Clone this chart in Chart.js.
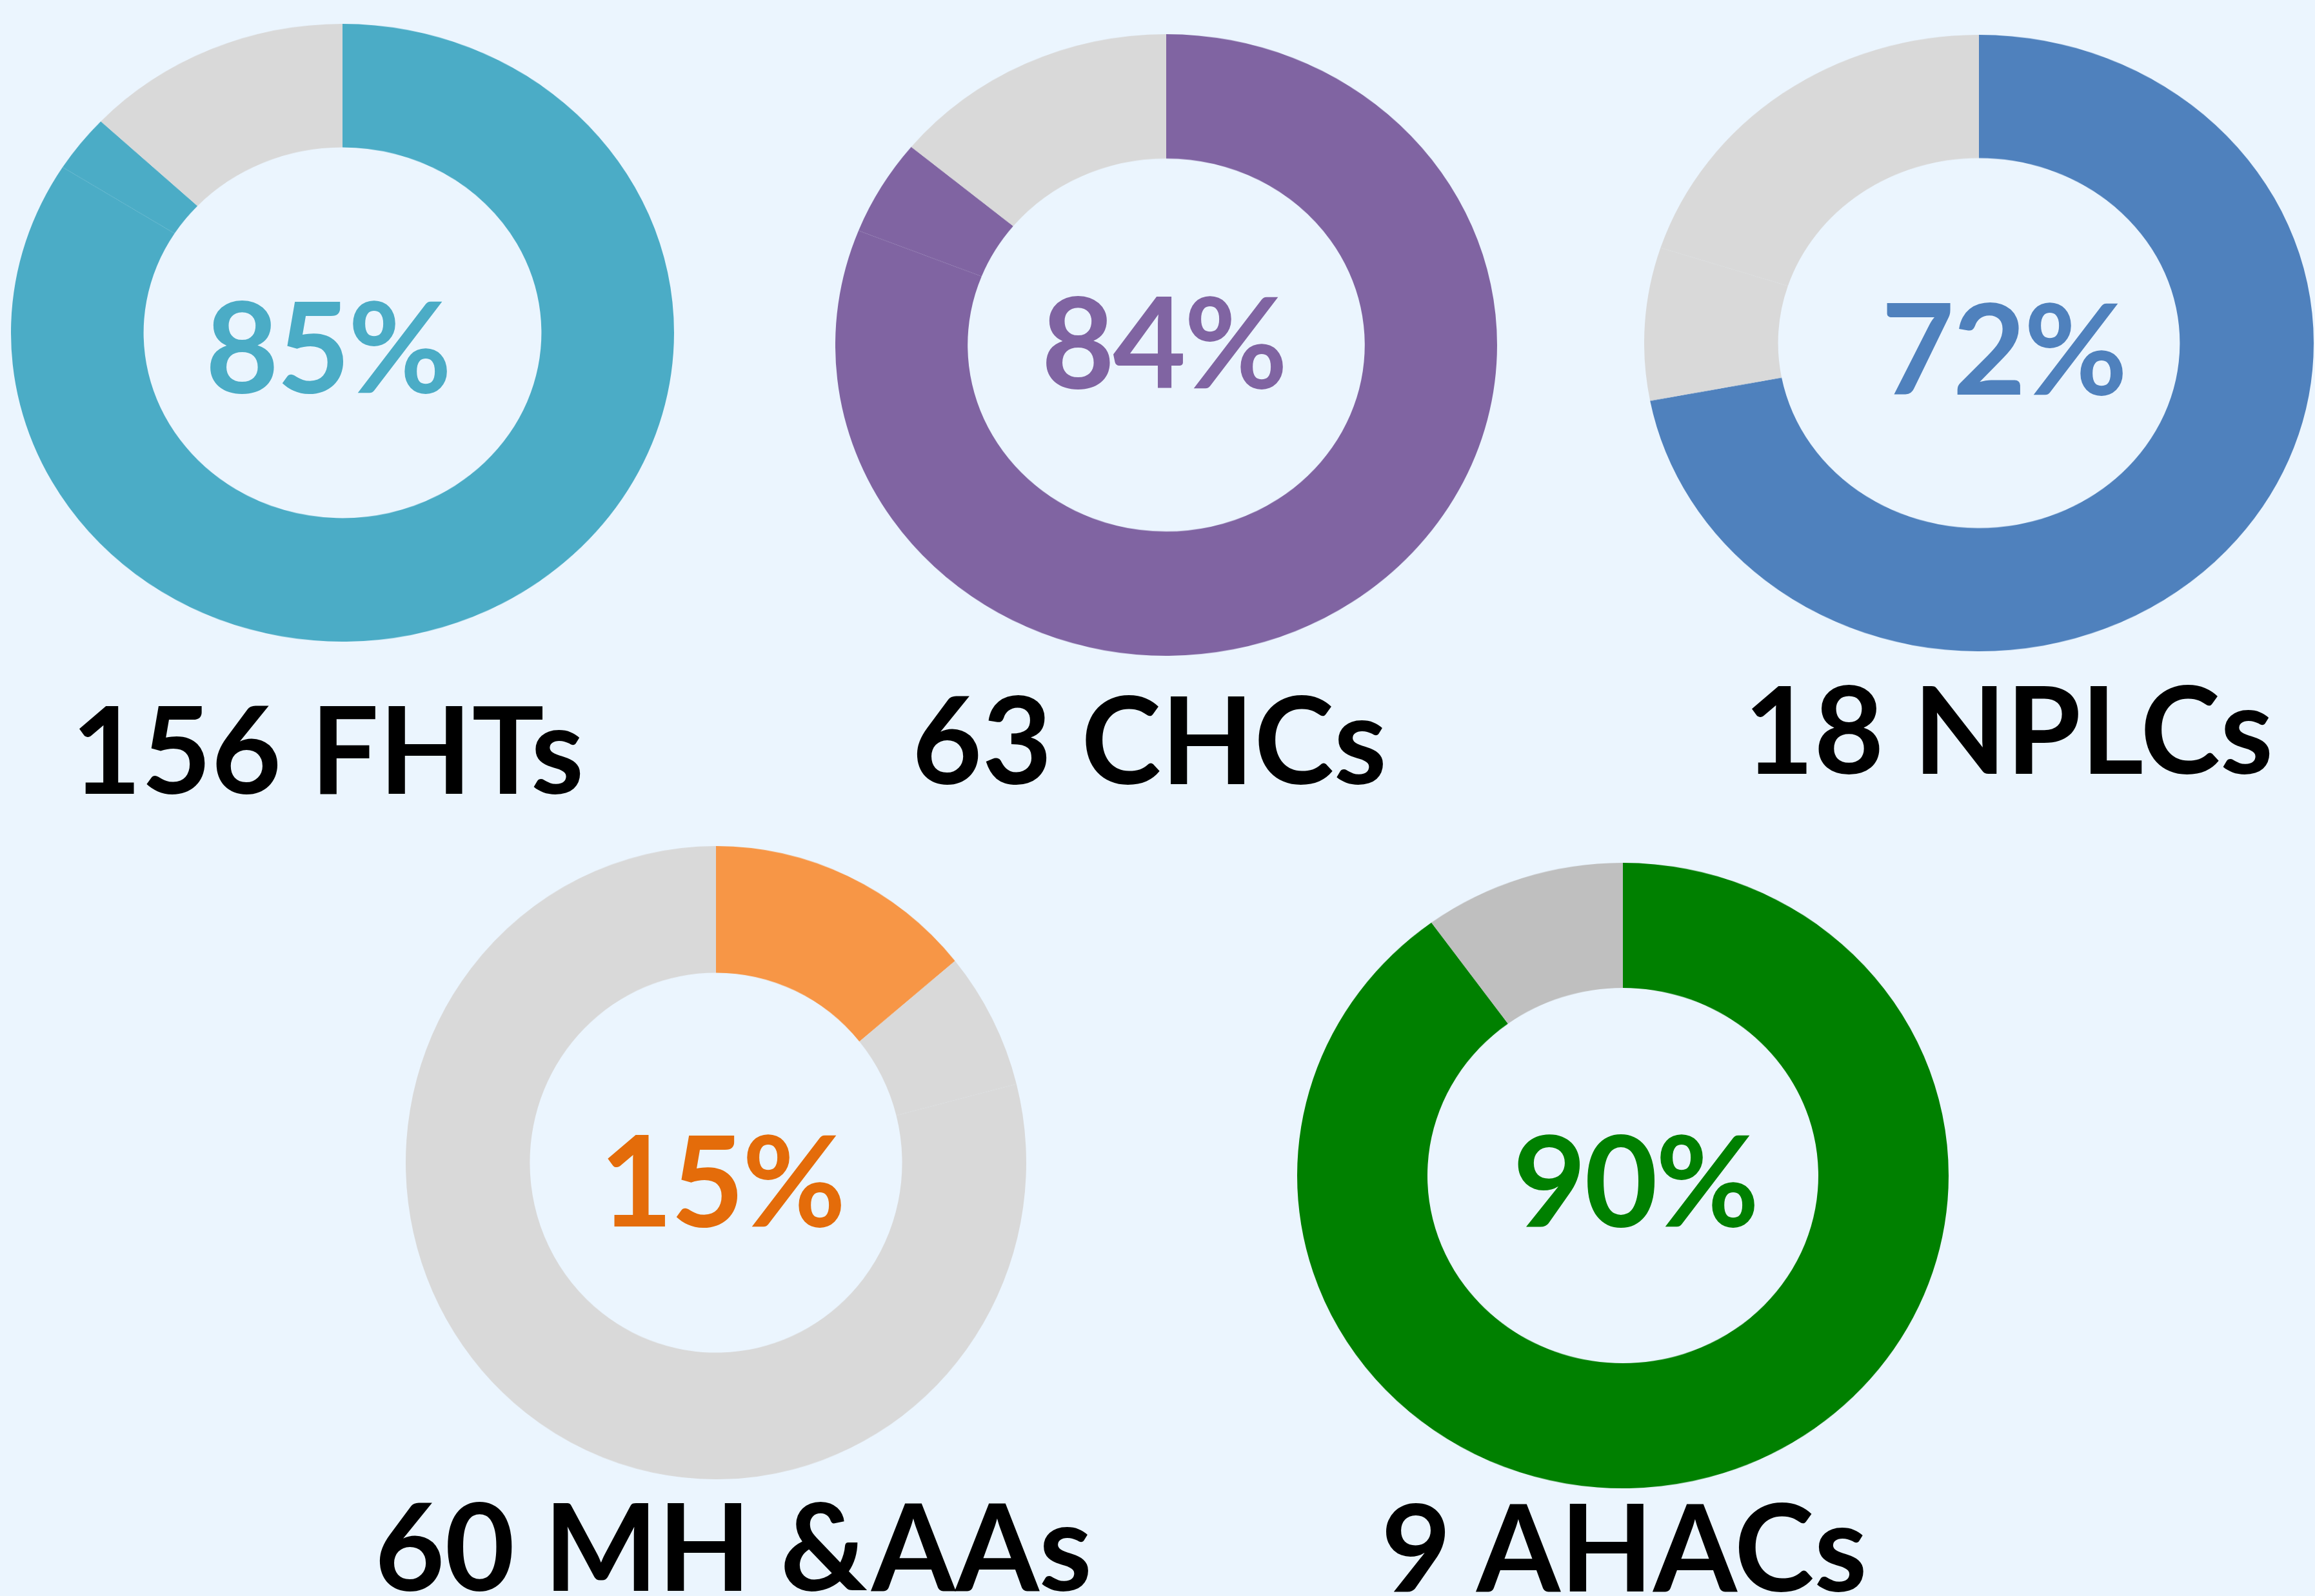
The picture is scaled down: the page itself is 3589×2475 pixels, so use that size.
<!DOCTYPE html>
<html>
<head>
<meta charset="utf-8">
<script src="https://cdn.jsdelivr.net/npm/chart.js@4"></script>
<style>
    body {
        margin: 0;
        width: 3589px;
        height: 2475px;
        background: #EBF5FE;
        overflow: hidden;
        position: relative;
        font-family: Lato, "Open Sans", sans-serif;
        font-weight: bold;
    }
    .donut {
        position: absolute;
    }
    .donut .inner {
        position: absolute;
        left: 0;
        top: 0;
        transform-origin: 0 0;
    }
    .label {
        position: absolute;
        white-space: pre;
        line-height: 1;
        transform: translate(-50%, -50%);
    }
    .name {
        font-size: 187px;
        color: #000;
    }
    .pct {
        font-size: 196px;
        letter-spacing: -3px;
    }
</style>
</head>
<body>
<script>
// chart data
const categories = ["156 FHTs", "63 CHCs", "18 NPLCs", "60 MH &AAs", "9 AHACs"];
const centerLabels = ["85%", "84%", "72%", "15%", "90%"];

const fhtValues = [84, 3, 13];
const chcValues = [81, 5, 14];
const nplcValues = [72, 8, 20];
const mhaaValues = [14, 7, 79];
const ahacValues = [90, 10];

const seriesValues = [fhtValues, chcValues, nplcValues, mhaaValues, ahacValues];

// colours per chart
const sliceColors = [
    ["#4BACC6", "#4BACC6", "#D9D9D9"],
    ["#8064A2", "#8064A2", "#D9D9D9"],
    ["#4F81BD", "#D9D9D9", "#D9D9D9"],
    ["#F79646", "#D9D9D9", "#D9D9D9"],
    ["#008000", "#BFBFBF"]
];
const textColors = ["#4BACC6", "#8064A2", "#4F81BD", "#E46C0A", "#008000"];

// layout: ellipse centre and radii, then label centres
const layout = [
    { cx: 531, cy: 516, rx: 514, ry: 479, pct: [508, 534], name: [508, 1158] },
    { cx: 1808, cy: 535, rx: 513, ry: 482, pct: [1804, 527], name: [1782, 1143] },
    { cx: 3068, cy: 532, rx: 519, ry: 478, pct: [3106, 537], name: [3114, 1127] },
    { cx: 1110, cy: 1803, rx: 481, ry: 491, pct: [1119, 1827], name: [1137, 2394] },
    { cx: 2516, cy: 1823, rx: 505, ry: 485, pct: [2535, 1827], name: [2518, 2395] }
];

function makeLabel(text, cls, pos, color) {
    const div = document.createElement("div");
    div.className = "label " + cls;
    div.textContent = text;
    div.style.left = pos[0] + "px";
    div.style.top = pos[1] + "px";
    if (color) div.style.color = color;
    document.body.appendChild(div);
}

seriesValues.forEach((values, i) => {
    const box = layout[i];

    // the reference donuts are slightly elliptical, so squash a square chart
    const wrap = document.createElement("div");
    wrap.className = "donut";
    wrap.style.left = (box.cx - box.rx) + "px";
    wrap.style.top = (box.cy - box.ry) + "px";
    wrap.style.width = (2 * box.rx) + "px";
    wrap.style.height = (2 * box.ry) + "px";

    const inner = document.createElement("div");
    inner.className = "inner";
    inner.style.width = (2 * box.rx) + "px";
    inner.style.height = (2 * box.rx) + "px";
    inner.style.transform = "scaleY(" + (box.ry / box.rx) + ")";

    const canvas = document.createElement("canvas");
    inner.appendChild(canvas);
    wrap.appendChild(inner);
    document.body.appendChild(wrap);

    new Chart(canvas.getContext("2d"), {
        type: "doughnut",
        data: {
            labels: values.map((v, k) => categories[i] + " " + (k + 1)),
            datasets: [{
                data: values,
                backgroundColor: sliceColors[i],
                borderWidth: 0
            }]
        },
        options: {
            responsive: true,
            maintainAspectRatio: false,
            animation: false,
            cutout: "60%",
            layout: { padding: 0 },
            plugins: {
                legend: { display: false },
                tooltip: { enabled: false }
            }
        }
    });

    makeLabel(centerLabels[i], "pct", box.pct, textColors[i]);
    makeLabel(categories[i], "name", box.name);
});
</script>
</body>
</html>
